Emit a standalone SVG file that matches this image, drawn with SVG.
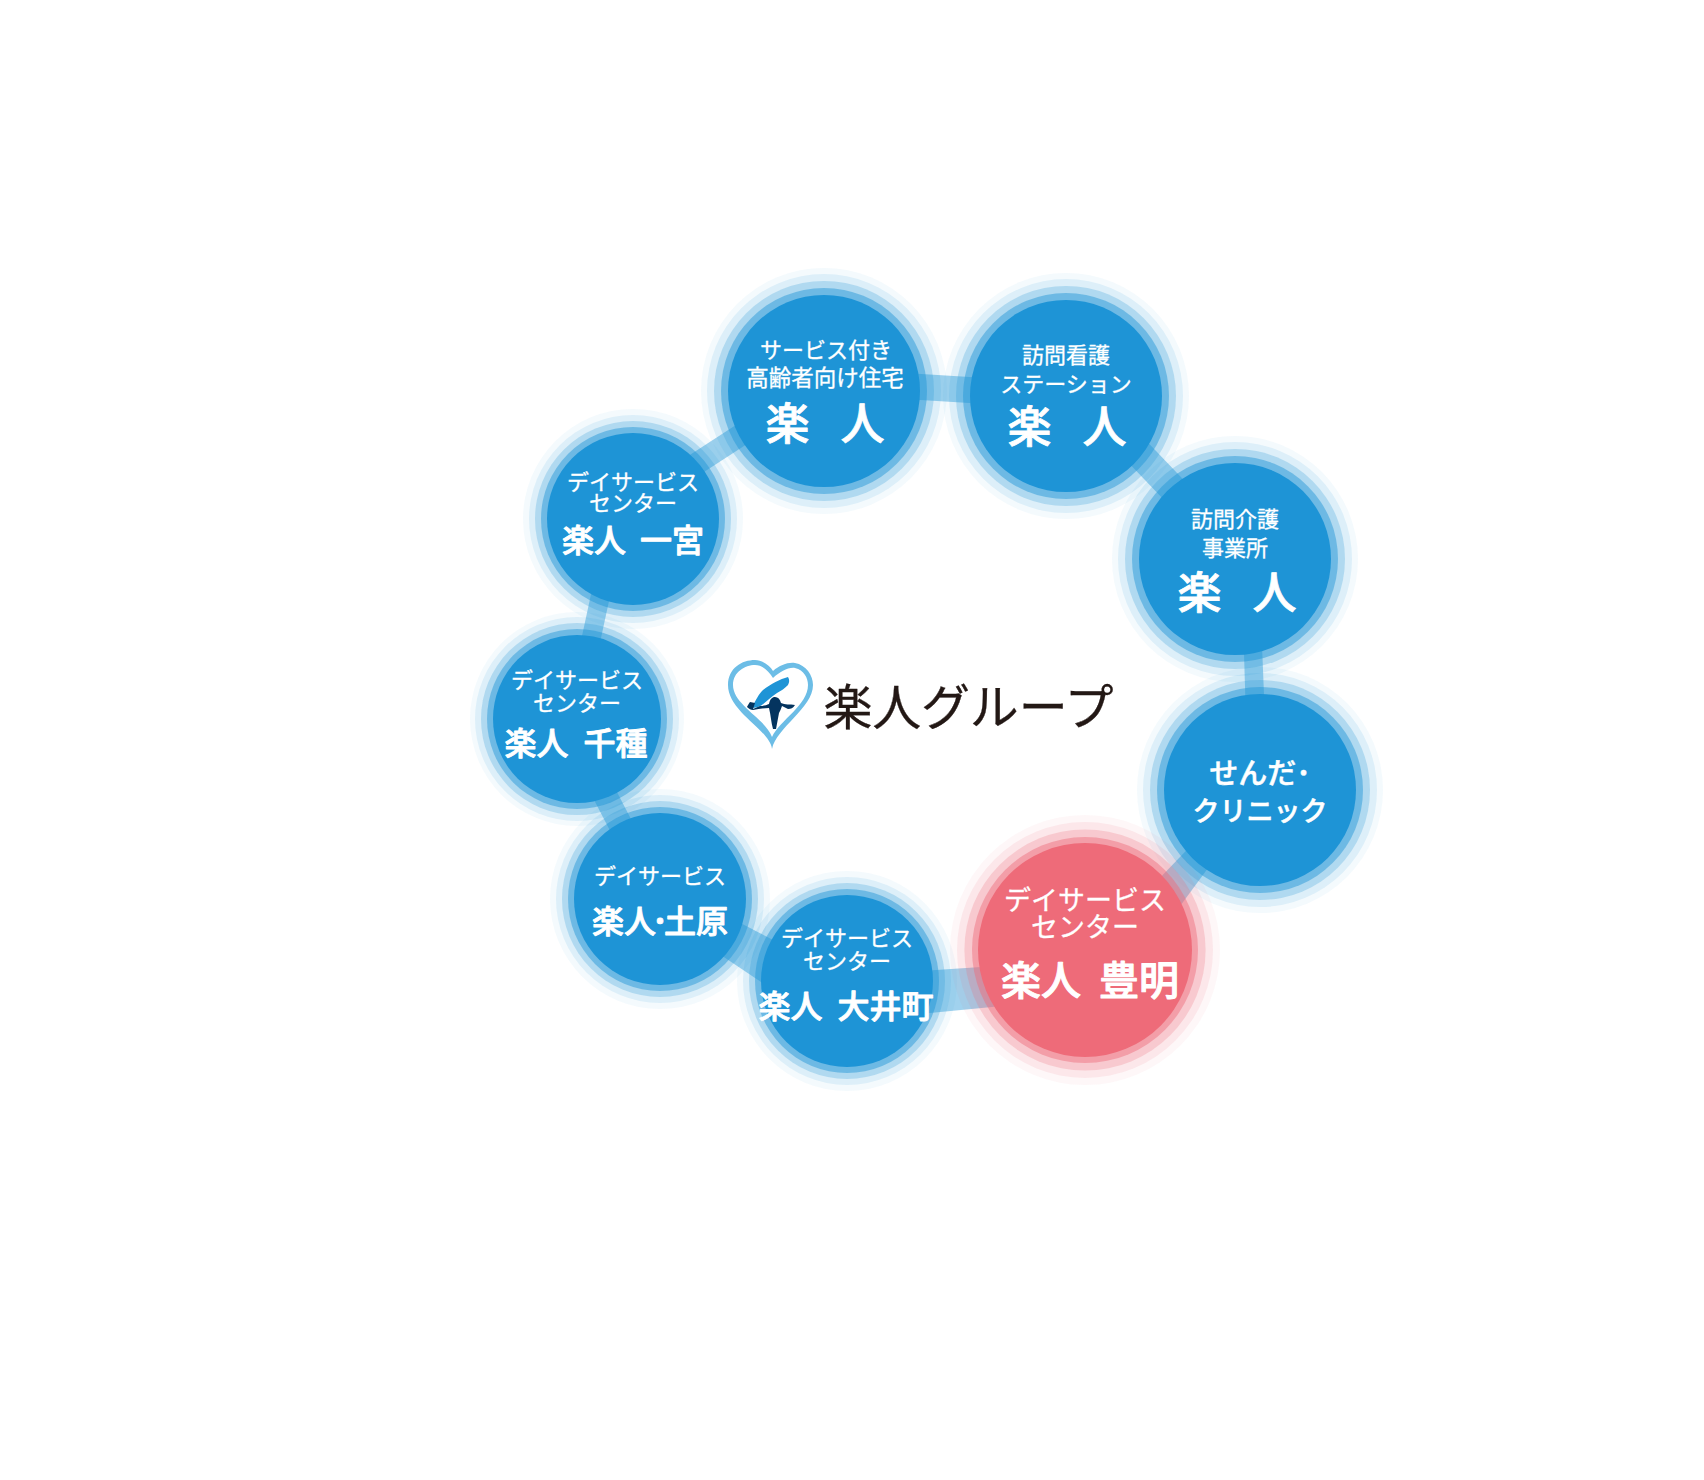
<svg xmlns="http://www.w3.org/2000/svg" width="1704" height="1480" viewBox="0 0 1704 1480">
<style>
text{font-family:"Noto Sans CJK JP","Noto Sans CJK SC",sans-serif;fill:#fff;text-anchor:middle;stroke:#fff;stroke-linejoin:round}
.s{font-size:22px;font-weight:400;stroke-width:.3px}
.b{font-size:44px;font-weight:500;word-spacing:21px;stroke-width:.8px}
.m{font-size:32px;font-weight:500;stroke-width:.9px;word-spacing:8px}
.c{fill:#1e94d6}.r{fill:#1e94d6}
.rc,.rr{fill:#ee6b79}
.a1{opacity:.05}.a2{opacity:.105}.a3{opacity:.235}.a4{opacity:.46}
.l{stroke:#1e94d6;stroke-opacity:.42;fill:none}
.f{fill:#1e94d6;fill-opacity:.42}
</style>
<rect width="1704" height="1480" fill="#fff"/>
<g id="connectors">
<path class="l" stroke-width="26" d="M824 381L1066 396"/>
<path class="l" stroke-width="28" d="M1066 377L1235 554"/>
<path class="f" d="M1243 620L1261 620L1265 720L1246 720Z"/>
<path class="f" d="M1130 909L1230 805L1250 811L1150 947Z"/>
<path class="f" d="M847 976L1085 960V998L847 1021Z"/>
<path class="f" d="M700 902L800 954L800 1008L700 941Z"/>
<path class="l" stroke-width="24" d="M565 718L659 899"/>
<path class="l" stroke-width="19" d="M574 718L617 519"/>
<path class="l" stroke-width="22" d="M633 505L824 381"/>
</g>
<g id="node-service">
<circle class="r a1" cx="824" cy="391" r="123"/><circle class="r a2" cx="824" cy="391" r="117"/><circle class="r a3" cx="824" cy="391" r="110"/><circle class="r a4" cx="824" cy="391" r="103"/><circle class="c" cx="824" cy="391" r="96"/>
<text class="s" x="826" y="358">サービス付き</text><text class="s" x="825" y="386" style="font-size:22.500px">高齢者向け住宅</text><text class="b" x="825" y="440">楽 人</text>
</g>
<g id="node-kango">
<circle class="r a1" cx="1066" cy="396" r="123"/><circle class="r a2" cx="1066" cy="396" r="117"/><circle class="r a3" cx="1066" cy="396" r="110"/><circle class="r a4" cx="1066" cy="396" r="103"/><circle class="c" cx="1066" cy="396" r="96"/>
<text class="s" x="1066" y="363">訪問看護</text><text class="s" x="1066" y="392">ステーション</text><text class="b" x="1067" y="443">楽 人</text>
</g>
<g id="node-kaigo">
<circle class="r a1" cx="1235" cy="559" r="123"/><circle class="r a2" cx="1235" cy="559" r="117"/><circle class="r a3" cx="1235" cy="559" r="110"/><circle class="r a4" cx="1235" cy="559" r="103"/><circle class="c" cx="1235" cy="559" r="96"/>
<text class="s" x="1235" y="527">訪問介護</text><text class="s" x="1235" y="556">事業所</text><text class="b" x="1237" y="609">楽 人</text>
</g>
<g id="node-clinic">
<circle class="r a1" cx="1260" cy="790" r="123"/><circle class="r a2" cx="1260" cy="790" r="117"/><circle class="r a3" cx="1260" cy="790" r="110"/><circle class="r a4" cx="1260" cy="790" r="103"/><circle class="c" cx="1260" cy="790" r="96"/>
<text x="1260" y="784" style="font-size:29px;font-weight:500;stroke-width:.5px">せんだ･</text><text x="1260" y="821" style="font-size:27px;font-weight:500;stroke-width:.5px">クリニック</text>
</g>
<g id="node-toyoake">
<circle class="rr a1" cx="1085" cy="950" r="135"/><circle class="rr a2" cx="1085" cy="950" r="128"/><circle class="rr a3" cx="1085" cy="950" r="120.600"/><circle class="rr a4" cx="1085" cy="950" r="113"/><circle class="rc" cx="1085" cy="950" r="107"/>
<text x="1085" y="910" style="font-size:27px;stroke-width:.3px">デイサービス</text><text x="1085" y="937" style="font-size:27px;stroke-width:.3px">センター</text><text x="1090" y="995" style="font-size:40px;font-weight:500;stroke-width:1px;word-spacing:9px">楽人 豊明</text>
</g>
<g id="node-oimachi">
<circle class="r a1" cx="847" cy="981" r="110"/><circle class="r a2" cx="847" cy="981" r="104"/><circle class="r a3" cx="847" cy="981" r="98"/><circle class="r a4" cx="847" cy="981" r="92"/><circle class="c" cx="847" cy="981" r="86"/>
<text class="s" x="847" y="946">デイサービス</text><text class="s" x="847" y="969">センター</text><text class="m" x="846" y="1018">楽人 大井町</text>
</g>
<g id="node-tsuchihara">
<circle class="r a1" cx="660" cy="899" r="110"/><circle class="r a2" cx="660" cy="899" r="104"/><circle class="r a3" cx="660" cy="899" r="98"/><circle class="r a4" cx="660" cy="899" r="92"/><circle class="c" cx="660" cy="899" r="86"/>
<text class="s" x="660" y="884">デイサービス</text><text class="m" x="660" y="933">楽人<tspan dx="-4">･</tspan><tspan dx="-4">土原</tspan></text>
</g>
<g id="node-chikusa">
<circle class="r a1" cx="577" cy="719" r="107"/><circle class="r a2" cx="577" cy="719" r="102"/><circle class="r a3" cx="577" cy="719" r="96"/><circle class="r a4" cx="577" cy="719" r="90"/><circle class="c" cx="577" cy="719" r="84"/>
<text class="s" x="577" y="688">デイサービス</text><text class="s" x="577" y="711">センター</text><text class="m" x="576" y="755">楽人 千種</text>
</g>
<g id="node-ichinomiya">
<circle class="r a1" cx="633" cy="519" r="110"/><circle class="r a2" cx="633" cy="519" r="104"/><circle class="r a3" cx="633" cy="519" r="98"/><circle class="r a4" cx="633" cy="519" r="92"/><circle class="c" cx="633" cy="519" r="86"/>
<text class="s" x="633" y="490">デイサービス</text><text class="s" x="633" y="511">センター</text><text class="m" x="633" y="552" style="word-spacing:7px">楽人 一宮</text>
</g>
<g id="logo">
<path fill="#6cbde6" fill-rule="evenodd" d="M772 749C770 730 728 712 728 685C728 668 742 660 755 660C763 660 770 666 773 671C780 665 788 662 795 663C806 665 813 675 813 685C813 708 776 728 772 749ZM772 737C765 718 733 705 733 685C733 672 745 665 755 665C763 665 769 672 773 678C780 672 788 667 795 668C804 670 808 678 808 685C808 705 780 720 772 737Z"/>
<path fill="#1e94d6" d="M752 708C756 699 759 694 763 690C771 684 780 679 788 677C790 680 789 683 788 685C785 688 781 691 777 693C771 697 767 701 762 705C759 707 755 708 752 708Z"/>
<path fill="#04345f" d="M747 707C748 705 749 703 750 702L755 703L753 709L760 706C764 706 767 705 769 704C770 699 772 697 775 697C778 697 780 699 781 703C785 705 790 704 795 705C793 708 791 709 788 709C786 708 784 707 782 706C781 709 780 711 779 713L776 729L773 729C771 722 771 716 769 708C764 708 758 709 753 710C751 710 749 709 747 707Z"/>
<text x="968.500" y="725" style="fill:#231815;stroke:#231815;stroke-width:.3px;font-size:49px;font-weight:400" textLength="290">楽人グループ</text>
</g>
</svg>
